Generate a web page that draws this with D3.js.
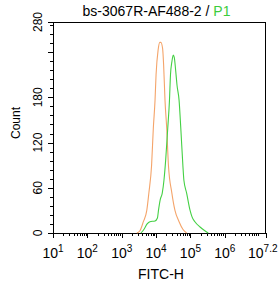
<!DOCTYPE html>
<html><head><meta charset="utf-8">
<script src="https://cdn.jsdelivr.net/npm/d3@7"></script>
<style>
html,body{margin:0;padding:0;background:#fff;}
svg{display:block;font-family:"Liberation Sans",Arial,sans-serif;}
</style></head>
<body><svg id="c" width="280" height="286"></svg>
<script>
// Data
const orangeFITC = [2750,3390,4270,5370,6170,7410,8320,9330,10000,11480,12880,13800,15490,16600,18200,20420,22910,28840,35480,46770,60260,77620];
const orangeCount = [0,3,15,30,53,90,139,176,210,243,253,253,245,223,176,139,90,53,30,15,5,0];
const greenFITC = [3630,4470,5500,6610,9330,10960,11750,13180,15140,16980,19050,21880,24550,26300,28840,31620,33880,37150,40740,46770,52480,60260,64570,77620,97720,112200,134900,190500,263000,331100];
const greenCount = [0,5,12,15,16,20,30,44,53,70,97,139,176,210,227,236,233,216,196,176,139,90,70,53,30,21,15,8,3,0];
const xMajorExp = [1,2,3,4,5,6,7.2];
const xMajorLabels = ["1","2","3","4","5","6","7.2"];
const yMajorTicks = [0,60,120,180,240,280];
const yLabels = ["0","60","120","180","","280"];
const titleMain = "bs-3067R-AF488-2 / ";
const titleGate = "P1";
const xTitle = "FITC-H";
const yTitle = "Count";

const svg = d3.select("#c");
const L=53, R=266, T=22, B=233;
const x = d3.scaleLog().domain([10, Math.pow(10,7.2)]).range([L,R]);
const y = d3.scaleLinear().domain([0,280]).range([B,T]);

// minor ticks
const xMinor=[];
for(let e=1;e<7;e++){for(let m=2;m<10;m++){xMinor.push(m*Math.pow(10,e));}}
const yMinor=d3.range(0,281,12).filter(v=>v%60!==0 && v<280);

const gx = svg.append("g").attr("transform",`translate(0,${B})`);
gx.call(d3.axisBottom(x).tickValues(xMinor).tickSize(3).tickFormat(""));
gx.append("g").call(d3.axisBottom(x).tickValues(xMajorExp.map(e=>Math.pow(10,e))).tickSize(5).tickFormat(""));
gx.selectAll(".domain").remove();
const gy = svg.append("g").attr("transform",`translate(${L},0)`);
gy.call(d3.axisLeft(y).tickValues(yMinor).tickSize(3).tickFormat(""));
gy.append("g").call(d3.axisLeft(y).tickValues(yMajorTicks).tickSize(5).tickFormat(""));
gy.selectAll(".domain").remove();
svg.selectAll(".tick line").attr("stroke","#000").attr("shape-rendering","crispEdges");

// frame
svg.append("rect").attr("x",L+0.5).attr("y",T+0.5).attr("width",R-L-1).attr("height",B-T)
  .attr("fill","none").attr("stroke","#000").attr("shape-rendering","crispEdges");

// x labels: whole label centred on tick, last one kept inside the page
xMajorExp.forEach((e,i)=>{
  const px = x(Math.pow(10,e));
  const t = svg.append("text").attr("y",258).attr("font-size",14).attr("fill","#000");
  t.append("tspan").text("10");
  t.append("tspan").attr("dy",-6.5).attr("font-size",10).text(xMajorLabels[i]);
  const w = t.node().getComputedTextLength();
  let x0 = px - w/2;
  if(x0 + w > 277.5) x0 = 277.5 - w;
  t.attr("x",x0);
});

// y labels
yMajorTicks.forEach((v,i)=>{
  if(!yLabels[i]) return;
  svg.append("text").attr("transform",`translate(41.5,${y(v)}) rotate(-90)`)
    .attr("text-anchor","middle").attr("font-size",12).text(yLabels[i]);
});

// titles
const tt = svg.append("text").attr("x",156.5).attr("y",15.5).attr("text-anchor","middle").attr("font-size",14);
tt.append("tspan").attr("fill","#000").text(titleMain);
tt.append("tspan").attr("fill","#3ccc3c").text(titleGate);
svg.append("text").attr("x",161).attr("y",278.7).attr("text-anchor","middle").attr("font-size",14).text(xTitle);
svg.append("text").attr("transform",`translate(19.5,123) rotate(-90)`).attr("text-anchor","middle").attr("font-size",12).text(yTitle);

// curves
const line = d3.line().x(d=>x(d[0])).y(d=>y(d[1])).curve(d3.curveMonotoneX);
svg.append("path").datum(orangeFITC.map((v,i)=>[v,orangeCount[i]]))
  .attr("d",line).attr("fill","none").attr("stroke","#f4a46a").attr("stroke-width",1.1);
svg.append("path").datum(greenFITC.map((v,i)=>[v,greenCount[i]]))
  .attr("d",line).attr("fill","none").attr("stroke","#44d044").attr("stroke-width",1.1);
</script></body></html>
